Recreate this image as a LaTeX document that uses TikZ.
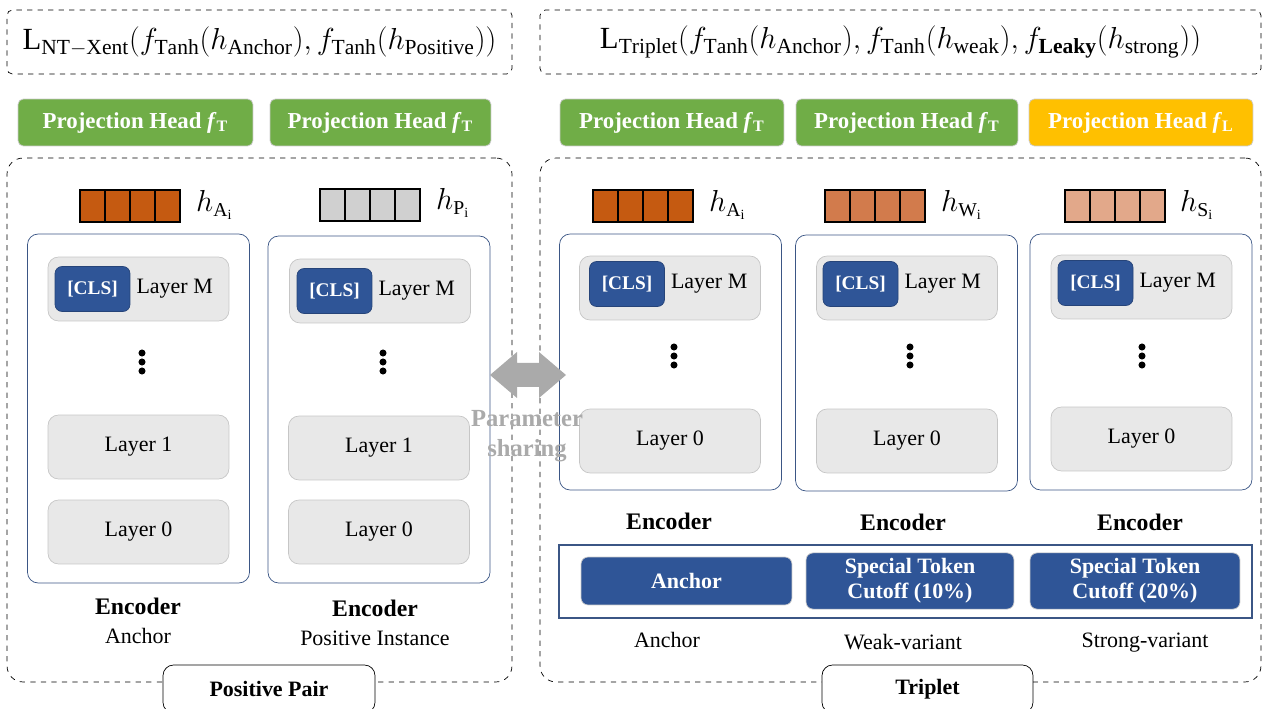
\documentclass[tikz,border=0pt]{standalone}
\usepackage{fontspec}
\setmainfont{LiberationSerif}[Extension=.ttf, UprightFont=*-Regular, BoldFont=*-Bold, ItalicFont=*-Italic, BoldItalicFont=*-BoldItalic]
\usetikzlibrary{positioning}

\definecolor{headgreen}{HTML}{70AD47}
\definecolor{headyellow}{HTML}{FFC000}
\definecolor{tokblue}{HTML}{2F5597}
\definecolor{encblue}{HTML}{3B5685}
\definecolor{hdark}{HTML}{C55A11}
\definecolor{hmid}{HTML}{D27B4C}
\definecolor{hlight}{HTML}{E2A88A}
\definecolor{hgray}{HTML}{D0D0D0}
\definecolor{layerfill}{HTML}{E8E8E8}
\definecolor{sharegray}{HTML}{AAAAAA}

\tikzset{
  every node/.style={font=\fontsize{12.5}{15}\selectfont},
  lossbox/.style={draw, dashed, rounded corners=3pt, minimum height=1.28cm, font=\fontsize{17.5}{20}\selectfont},
  head/.style={fill=headgreen, draw=gray!40, rounded corners=3pt, minimum height=0.94cm, text=white, font=\fontsize{13}{15}\selectfont\bfseries},
  group/.style={draw, dashed, rounded corners=9pt, minimum height=10.48cm},
  encoder/.style={draw=encblue, rounded corners=6pt, minimum width=4.44cm},
  layer/.style={draw=gray!45, fill=layerfill, rounded corners=6pt, minimum width=3.62cm, minimum height=1.28cm},
  cls/.style={fill=tokblue, draw=tokblue!80!black, rounded corners=4pt, minimum width=1.5cm, minimum height=0.9cm, text=white, font=\fontsize{11}{13}\selectfont\bfseries},
  cell/.style={draw, thick, minimum width=0.5cm, minimum height=0.64cm, inner sep=0pt},
  hlabel/.style={anchor=west, font=\fontsize{16}{18}\selectfont},
  token/.style={fill=tokblue, draw=gray!40, rounded corners=4pt, minimum height=0.96cm, text=white, align=center, font=\fontsize{12.5}{14}\selectfont\bfseries},
  bold/.style={font=\fontsize{13.5}{15}\selectfont\bfseries},
  tag/.style={draw, fill=white, rounded corners=6pt, minimum height=0.96cm, font=\fontsize{12.5}{15}\selectfont\bfseries},
  dot/.style={fill, circle, inner sep=0pt, minimum size=4pt}
}

\begin{document}
\begin{tikzpicture}[x=0.02cm, y=-0.02cm]
\useasboundingbox (0,0) rectangle (1268,709);

% losses
\node[lossbox, minimum width=10.1cm] (lossP) at (259.5,42) {$\mathrm{L}_{\mathrm{NT}{-}\mathrm{Xent}}(f_{\mathrm{Tanh}}(h_{\mathrm{Anchor}}), f_{\mathrm{Tanh}}(h_{\mathrm{Positive}}))$};
\node[lossbox, minimum width=14.42cm] (lossT) at (900.5,42) {$\mathrm{L}_{\mathrm{Triplet}}\big(f_{\mathrm{Tanh}}(h_{\mathrm{Anchor}}), f_{\mathrm{Tanh}}(h_{\mathrm{weak}}), f_{\mathbf{Leaky}}(h_{\mathrm{strong}})\big)$};

% projection heads
\node[head, minimum width=4.7cm] (headA) at (135.5,122.5) {Projection Head \textit{f}\textsubscript{T}};
\node[head, minimum width=4.42cm] (headP) at (380.5,122.5) {Projection Head \textit{f}\textsubscript{T}};
\node[head, minimum width=4.48cm] (headTA) at (672,122.5) {Projection Head \textit{f}\textsubscript{T}};
\node[head, minimum width=4.44cm] (headTW) at (907,122.5) {Projection Head \textit{f}\textsubscript{T}};
\node[head, fill=headyellow, minimum width=4.48cm] (headTS) at (1141,122.5) {Projection Head \textit{f}\textsubscript{L}};

% groups
\node[group, minimum width=10.1cm] (pair) at (259.5,420) {};
\node[group, minimum width=14.42cm] (trip) at (900.5,420) {};

% hidden vectors
\foreach \i in {0,...,3} {
  \node[cell, fill=hdark] (vA\i) at (92.5+25*\i,206) {};
  \node[cell, fill=hgray] (vP\i) at (332.5+25*\i,205) {};
  \node[cell, fill=hdark] (vTA\i) at (605.5+25*\i,206) {};
  \node[cell, fill=hmid] (vTW\i) at (837.5+25*\i,206) {};
  \node[cell, fill=hlight] (vTS\i) at (1077.5+25*\i,206) {};
}
\node[hlabel] (hA) at (190,205) {$h_{\mathrm{A}_\mathrm{i}}$};
\node[hlabel] (hP) at (430,203) {$h_{\mathrm{P}_\mathrm{i}}$};
\node[hlabel] (hTA) at (703,205) {$h_{\mathrm{A}_\mathrm{i}}$};
\node[hlabel] (hTW) at (935,205) {$h_{\mathrm{W}_\mathrm{i}}$};
\node[hlabel] (hTS) at (1174,205) {$h_{\mathrm{S}_\mathrm{i}}$};

% encoders
\node[encoder, minimum height=6.98cm] (encA) at (138.5,408.5) {};
\node[encoder, minimum height=6.94cm] (encP) at (379,409.5) {};
\node[encoder, minimum height=5.12cm] (encTA) at (670.5,362) {};
\node[encoder, minimum height=5.12cm] (encTW) at (906.5,363) {};
\node[encoder, minimum height=5.12cm] (encTS) at (1141,362) {};

% layers
\node[layer] (mA) at (138.5,289) {};
\node[layer] (mP) at (380,291) {};
\node[layer] (mTA) at (670,288) {};
\node[layer] (mTW) at (907,288) {};
\node[layer] (mTS) at (1141.5,287) {};
\node[layer] (oneA) at (138.5,447) {Layer 1};
\node[layer] (oneP) at (379,448) {Layer 1};
\node[layer] (zeroA) at (138.5,532) {Layer 0};
\node[layer] (zeroP) at (379,532) {Layer 0};
\node[layer] (zeroTA) at (670,441) {Layer 0};
\node[layer] (zeroTW) at (907,441) {Layer 0};
\node[layer] (zeroTS) at (1141.5,439) {Layer 0};

\node[cls] (clsA) at (92.5,289) {[CLS]};
\node[cls] (clsP) at (334.5,291) {[CLS]};
\node[cls] (clsTA) at (627,284) {[CLS]};
\node[cls] (clsTW) at (860.5,284) {[CLS]};
\node[cls] (clsTS) at (1095.5,283) {[CLS]};
\node[right=0pt of clsA] (txtA) {Layer M};
\node[right=0pt of clsP] (txtP) {Layer M};
\node[right=0pt of clsTA] (txtTA) {Layer M};
\node[right=0pt of clsTW] (txtTW) {Layer M};
\node[right=0pt of clsTS] (txtTS) {Layer M};

% vertical dots
\foreach \x/\y in {142/362, 383/362, 674/356, 910/356, 1142/356}
  \foreach \k in {-1,0,1}
    \node[dot] at (\x,\y+9*\k) {};

% encoder captions
\node[bold] (capA) at (138,606) {Encoder};
\node (subA) at (138,636) {Anchor};
\node[bold] (capP) at (375,608) {Encoder};
\node (subP) at (375,638) {Positive Instance};
\node[bold] (capTA) at (669,521) {Encoder};
\node[bold] (capTW) at (903,522) {Encoder};
\node[bold] (capTS) at (1140,522) {Encoder};

% input tokens
\node[draw=encblue, thick, minimum width=13.86cm, minimum height=1.46cm] (tokens) at (905.5,581.5) {};
\node[token, minimum width=4.22cm] (tokA) at (686.5,581) {Anchor};
\node[token, minimum width=4.16cm] (tokW) at (910,581) {Special Token\\Cutoff (10\%)};
\node[token, minimum width=4.2cm] (tokS) at (1135,581) {Special Token\\Cutoff (20\%)};
\node (subTA) at (667,640) {Anchor};
\node (subTW) at (903,642) {Weak-variant};
\node (subTS) at (1145,643) {Strong-variant};

% tags
\node[tag, minimum width=4.24cm] (tagP) at (269,689) {Positive Pair};
\node[tag, minimum width=4.22cm] (tagT) at (927.5,689) {Triplet};

% parameter sharing
\fill[sharegray] (490,375) -- (517,352) -- (517,363) -- (539,363) -- (539,352) -- (566,375) -- (539,398) -- (539,387) -- (517,387) -- (517,398) -- cycle;
\node[align=center, text=sharegray, font=\fontsize{14}{17}\selectfont\bfseries] (share) at (527,436) {Parameter\\sharing};
\end{tikzpicture}
\end{document}
